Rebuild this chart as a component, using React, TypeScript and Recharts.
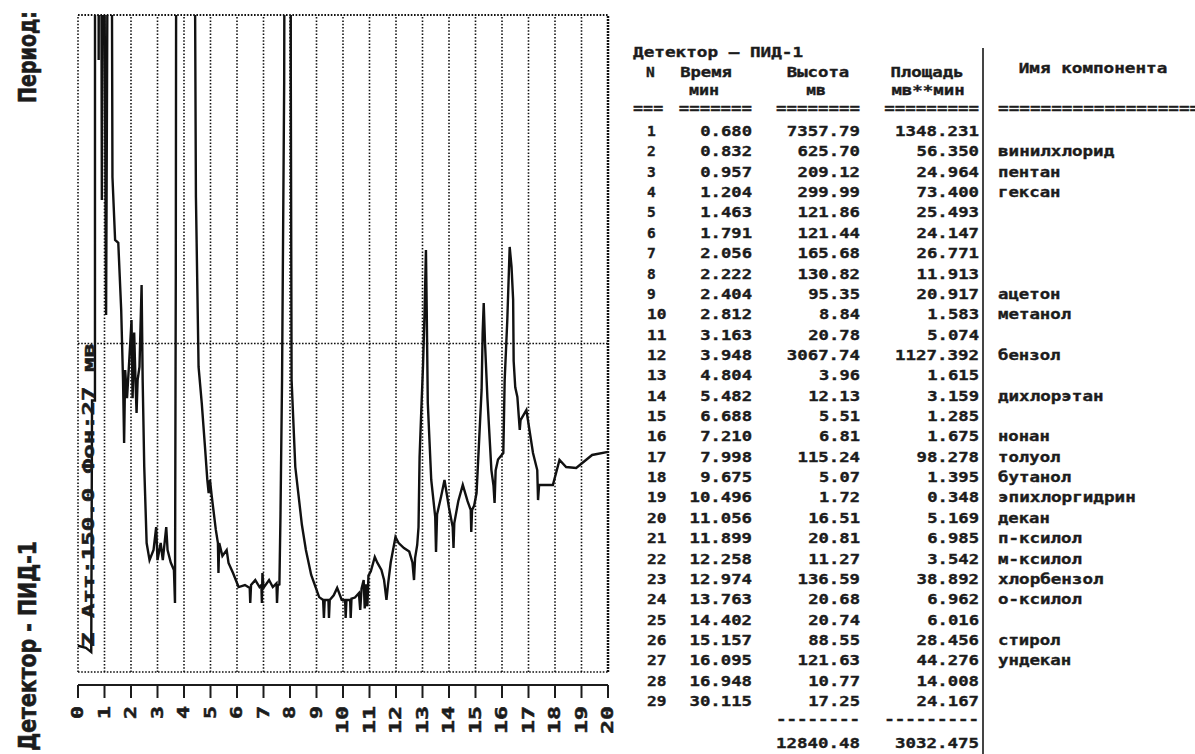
import React from 'react';
import { LineChart, Line, XAxis, YAxis, ReferenceLine } from 'recharts';

// Chromatogram trace: minutes vs mV.
// Peaks above 300 mV run off the top of the plot and get clipped.
const traceMin = [
  0.0, 0.3, 0.5, 0.53, 0.64, 0.66, 0.68, 0.74, 0.78, 0.83, 0.9, 0.96,
  1.06, 1.14, 1.2, 1.26, 1.3, 1.4, 1.52, 1.63, 1.7, 1.74, 1.78, 1.85, 1.92, 2.02, 2.06,
  2.12, 2.17, 2.21, 2.25, 2.32, 2.4, 2.44, 2.5, 2.59, 2.7, 2.85, 2.95, 3.0, 3.12, 3.2,
  3.33, 3.38, 3.5, 3.62, 3.66, 3.69, 3.76, 3.95, 4.3, 4.42, 4.45, 4.55, 4.67, 4.8, 4.88,
  4.93, 4.98, 5.05, 5.2, 5.28, 5.3, 5.33, 5.45, 5.61, 5.68, 5.85, 6.06, 6.3, 6.48, 6.5,
  6.53, 6.69, 6.85, 6.92, 6.94, 6.96, 7.0, 7.21, 7.35, 7.49, 7.51, 7.54, 7.6, 7.64, 7.7,
  7.78, 7.86, 8.0, 8.03, 8.06, 8.2, 8.45, 8.6, 8.8, 9.1, 9.25, 9.28, 9.31, 9.45, 9.47,
  9.5, 9.65, 9.78, 9.95, 10.08, 10.1, 10.13, 10.27, 10.29, 10.32, 10.45, 10.6, 10.65, 10.7, 10.78,
  10.82, 10.86, 10.92, 10.96, 11.05, 11.2, 11.3, 11.45, 11.55, 11.64, 11.7, 11.8, 11.98, 12.1, 12.3,
  12.5, 12.62, 12.68, 12.72, 12.8, 12.85, 12.89, 12.95, 13.02, 13.08, 13.13, 13.16, 13.2, 13.33, 13.48,
  13.51, 13.55, 13.7, 13.83, 14.0, 14.14, 14.17, 14.2, 14.35, 14.52, 14.7, 14.82, 14.84, 14.87, 14.95,
  15.04, 15.23, 15.27, 15.31, 15.36, 15.45, 15.6, 15.68, 15.72, 15.76, 15.85, 16.05, 16.1, 16.2, 16.29,
  16.36, 16.42, 16.44, 16.5, 16.58, 16.67, 16.7, 16.92, 17.17, 17.33, 17.36, 17.4, 17.92, 18.17, 18.42,
  18.8, 19.4, 20.0,
];
const traceMv = [
  12.0, 11.0, 9.1, 124.0, 124.0, 2500, 7357.8, 2500, 279.5, 625.7, 215.5, 420,
  163.0, 400, 520, 400, 226.0, 197.3, 196.0, 165.3, 133.0, 104.6, 137.9, 125.0, 139.3, 160.7, 125.0,
  155.0, 133.0, 118.3, 133.3, 139.3, 176.7, 133.3, 93.6, 58.9, 51.1, 55.7, 66.2, 51.1, 58.9, 51.1,
  66.2, 55.7, 50.0, 46.6, 31.5, 180, 900, 3067.7, 900, 300, 216.9, 139.3, 122.8, 101.4, 87.7,
  81.7, 87.7, 80.0, 65.0, 58.9, 45.2, 58.9, 53.0, 55.7, 49.8, 45.2, 38.8, 39.7, 38.4, 31.5,
  39.7, 42.0, 38.8, 39.7, 31.5, 45.2, 38.4, 42.0, 38.8, 40.5, 31.5, 39.7, 40.0, 70.8, 133.3,
  269.0, 700, 1200, 271.7, 133.3, 93.6, 67.1, 55.7, 44.3, 34.2, 32.9, 24.7, 32.9, 32.9, 24.7,
  32.9, 35.0, 38.4, 33.0, 32.9, 24.7, 32.9, 32.9, 24.7, 33.5, 34.0, 36.0, 28.3, 38.0, 42.0,
  29.0, 40.0, 30.0, 44.0, 46.0, 52.5, 49.8, 46.6, 42.0, 32.9, 40.0, 50.0, 61.6, 58.9, 56.6,
  55.0, 50.0, 42.0, 52.0, 58.0, 66.2, 98.2, 118.0, 140.0, 165.0, 192.7, 165.0, 122.8, 87.7, 70.8,
  54.8, 72.0, 80.0, 87.7, 75.0, 66.2, 56.6, 68.0, 78.0, 85.4, 78.0, 74.0, 63.9, 74.0, 76.0,
  81.7, 128.8, 154.8, 168.5, 150.0, 125.0, 92.2, 85.0, 77.2, 92.0, 97.0, 100.0, 133.0, 160.7, 194.1,
  185.0, 170.0, 142.0, 130.0, 125.6, 110.5, 115.0, 119.6, 100.0, 92.2, 78.5, 85.4, 85.4, 96.8, 93.6,
  93.2, 99.1, 100.5,
];

const minuteTicks = [0, 1, 2, 3, 4, 5, 6, 7, 8, 9, 10, 11, 12, 13, 14, 15, 16, 17, 18, 19, 20];
const fullScaleMv = 300;
const midLineMv = 150;

// peak report table
const peakNo = [1, 2, 3, 4, 5, 6, 7, 8, 9, 10, 11, 12, 13, 14, 15, 16, 17, 18, 19, 20, 21, 22, 23, 24, 25, 26, 27, 28, 29];
const peakTime = [
  0.68, 0.832, 0.957, 1.204, 1.463, 1.791, 2.056, 2.222, 2.404, 2.812, 3.163, 3.948, 4.804, 5.482, 6.688,
  7.21, 7.998, 9.675, 10.496, 11.056, 11.899, 12.258, 12.974, 13.763, 14.402, 15.157, 16.095, 16.948, 30.115,
];
const peakHeight = [
  7357.79, 625.7, 209.12, 299.99, 121.86, 121.44, 165.68, 130.82, 95.35, 8.84, 20.78, 3067.74, 3.96, 12.13, 5.51,
  6.81, 115.24, 5.07, 1.72, 16.51, 20.81, 11.27, 136.59, 20.68, 20.74, 88.55, 121.63, 10.77, 17.25,
];
const peakArea = [
  1348.231, 56.35, 24.964, 73.4, 25.493, 24.147, 26.771, 11.913, 20.917, 1.583, 5.074, 1127.392, 1.615, 3.159, 1.285,
  1.675, 98.278, 1.395, 0.348, 5.169, 6.985, 3.542, 38.892, 6.962, 6.016, 28.456, 44.276, 14.008, 24.167,
];
const peakName = [
  '', 'винилхлорид', 'пентан', 'гексан', '', '', '', '', 'ацетон', 'метанол', '', 'бензол', '', 'дихлорэтан', '',
  'нонан', 'толуол', 'бутанол', 'эпихлоргидрин', 'декан', 'п-ксилол', 'м-ксилол', 'хлорбензол', 'о-ксилол', '',
  'стирол', 'ундекан', '', '',
];
const totalHeight = 12840.48;
const totalArea = 3032.475;

const traceData = traceMin.map((t, i) => ({ t, mv: traceMv[i] }));

const INK = '#1c1c1c';
const MONO = "'DejaVu Sans Mono', 'Liberation Mono', monospace";
const PITCH = 10.75;

function Mono({ x, y, s, anchor = 'start' }: { x: number; y: number; s: string; anchor?: 'start' | 'middle' | 'end' }) {
    if (!s) return null;
    return (
        <text x={x} y={y} textAnchor={anchor} fontSize={14} textLength={s.length * PITCH - 2} lengthAdjust="spacingAndGlyphs">
            {s}
        </text>
    );
}

function MinuteTick(props: any) {
    const { x, y, payload } = props;
    const s = String(payload.value);
    return (
        <text
            transform={`translate(${x + 5},${y}) rotate(-90)`}
            textAnchor="end"
            fontFamily={MONO}
            fontWeight="bold"
            fontSize={15}
            fill={INK}
            stroke={INK}
            strokeWidth={0.5}
            textLength={s.length * 15 - 2}
            lengthAdjust="spacingAndGlyphs"
        >
            {s}
        </text>
    );
}

export default function App() {
    const rowY = (i: number) => 136 + i * 20.36;
    return (
        <div style={{ position: 'absolute', left: 0, top: 0, width: 1195, height: 754, background: '#fff', overflow: 'hidden' }}>
            <div style={{ position: 'absolute', left: 0, top: 0 }}>
                <LineChart width={620} height={754} data={traceData} margin={{ top: 15, right: 12, left: 78, bottom: 0 }}>
                    <XAxis xAxisId="g" dataKey="t" type="number" domain={[0, 20]} ticks={minuteTicks} height={13} axisLine={false} tickLine={false} tick={false} />
                    <XAxis
                        xAxisId="m"
                        dataKey="t"
                        type="number"
                        domain={[0, 20]}
                        ticks={minuteTicks}
                        interval={0}
                        height={69}
                        axisLine={{ stroke: INK, strokeWidth: 2 }}
                        tickLine={{ stroke: INK, strokeWidth: 2 }}
                        tickSize={13}
                        tickMargin={8}
                        tick={(p: any) => <MinuteTick {...p} />}
                    />
                    <YAxis hide domain={[0, fullScaleMv]} allowDataOverflow />
                    {minuteTicks.map((m) => (
                        <ReferenceLine
                            key={m}
                            xAxisId="g"
                            x={m}
                            stroke="#111"
                            strokeWidth={m === 20 ? 2.5 : 1.6}
                            strokeDasharray={m === 20 ? '2 1' : '1.5 1.8'}
                        />
                    ))}
                    <ReferenceLine xAxisId="g" y={fullScaleMv} stroke="#111" strokeWidth={1.8} strokeDasharray="1.6 1.6" />
                    <ReferenceLine xAxisId="g" y={midLineMv} stroke="#111" strokeWidth={1.6} strokeDasharray="1.6 1.6" />
                    <ReferenceLine xAxisId="g" y={0} stroke="#111" strokeWidth={1.6} strokeDasharray="1.6 1.6" />
                    <Line xAxisId="g" type="linear" dataKey="mv" stroke="#111" strokeWidth={2.4} dot={false} isAnimationActive={false} />
                </LineChart>
            </div>
            <svg width={1195} height={754} style={{ position: 'absolute', left: 0, top: 0, pointerEvents: 'none' }}>
                <g fill={INK} stroke={INK} strokeWidth={0.6} fontWeight="bold" fontFamily="'Liberation Sans Narrow', 'DejaVu Sans Condensed', 'Liberation Sans', sans-serif">
                    <text transform="translate(36,103) rotate(-90)" fontSize={24} textLength={92} lengthAdjust="spacingAndGlyphs">Период:</text>
                    <text transform="translate(36,751) rotate(-90)" fontSize={24} textLength={210} lengthAdjust="spacingAndGlyphs">Детектор  -  ПИД-1</text>
                </g>
                <text
                    transform="translate(94,647) rotate(-90)"
                    fill={INK}
                    stroke={INK}
                    strokeWidth={0.5}
                    fontWeight="bold"
                    fontFamily={MONO}
                    fontSize={16}
                    textLength={304}
                    lengthAdjust="spacingAndGlyphs"
                >
                    Z Атт:150.0  Фон:27 мв
                </text>

                <g fill={INK} stroke={INK} strokeWidth={0.35} fontWeight="bold" fontFamily={MONO}>
                    <Mono x={633} y={57} s="Детектор – ПИД-1" />
                    <Mono x={646} y={77} s="N" />
                    <Mono x={706} y={77} s="Время" anchor="middle" />
                    <Mono x={818} y={77} s="Высота" anchor="middle" />
                    <Mono x={927} y={77} s="Площадь" anchor="middle" />
                    <Mono x={1093} y={73} s="Имя компонента" anchor="middle" />
                    <Mono x={704} y={95} s="мин" anchor="middle" />
                    <Mono x={816} y={95} s="мв" anchor="middle" />
                    <Mono x={928} y={95} s="мв**мин" anchor="middle" />
                    <Mono x={633} y={113} s="===" />
                    <Mono x={752} y={113} s="=======" anchor="end" />
                    <Mono x={860} y={113} s="========" anchor="end" />
                    <Mono x={979} y={113} s="=========" anchor="end" />
                    <Mono x={998} y={113} s="===================" />
                    {peakNo.map((n, i) => (
                        <g key={n}>
                            <Mono x={647} y={rowY(i)} s={String(n)} />
                            <Mono x={752} y={rowY(i)} s={peakTime[i].toFixed(3)} anchor="end" />
                            <Mono x={860} y={rowY(i)} s={peakHeight[i].toFixed(2)} anchor="end" />
                            <Mono x={979} y={rowY(i)} s={peakArea[i].toFixed(3)} anchor="end" />
                            <Mono x={998} y={rowY(i)} s={peakName[i]} />
                        </g>
                    ))}
                    <Mono x={860} y={724} s="--------" anchor="end" />
                    <Mono x={979} y={724} s="---------" anchor="end" />
                    <Mono x={860} y={748} s={totalHeight.toFixed(2)} anchor="end" />
                    <Mono x={979} y={748} s={totalArea.toFixed(3)} anchor="end" />
                </g>
                <line x1={983} y1={48} x2={983} y2={754} stroke="#444" strokeWidth={2} />
            </svg>
        </div>
    );
}
